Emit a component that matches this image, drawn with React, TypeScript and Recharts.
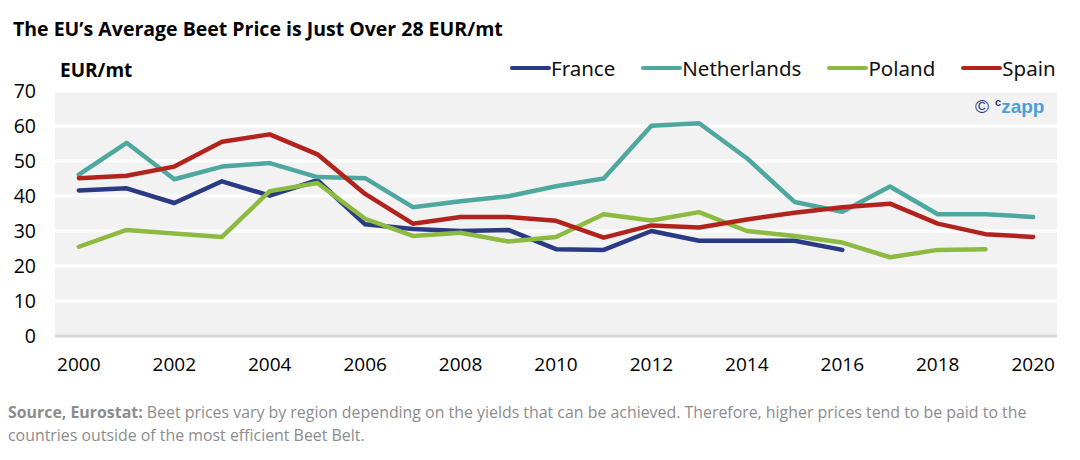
import React from "react"
import { LineChart, Line, XAxis, YAxis, CartesianGrid } from "recharts"

const years = [
  "2000", "2001", "2002", "2003", "2004", "2005", "2006", "2007", "2008", "2009", "2010",
  "2011", "2012", "2013", "2014", "2015", "2016", "2017", "2018", "2019", "2020",
]

const france = [41.6, 42.2, 38.0, 44.2, 40.1, 44.5, 31.9, 30.6, 30.0, 30.3, 24.8, 24.6, 30.0, 27.2, 27.2, 27.2, 24.6, null, null, null, null]
const netherlands = [46.1, 55.2, 44.8, 48.4, 49.4, 45.4, 45.1, 36.8, 38.5, 39.9, 42.8, 45.0, 60.1, 60.8, 50.8, 38.3, 35.5, 42.7, 34.8, 34.8, 34.0]
const poland = [25.5, 30.3, 29.3, 28.3, 41.4, 43.7, 33.5, 28.6, 29.5, 27.0, 28.3, 34.8, 33.0, 35.4, 30.0, 28.6, 26.7, 22.5, 24.6, 24.8, null]
const spain = [45.1, 45.8, 48.4, 55.5, 57.6, 51.9, 40.6, 32.1, 34.0, 34.0, 32.9, 28.1, 31.6, 31.0, 33.3, 35.2, 36.8, 37.8, 32.1, 29.1, 28.3]

const yTicks = [0, 10, 20, 30, 40, 50, 60, 70]

const series = [
  { key: "France", values: france, color: "#2b3a85" },
  { key: "Netherlands", values: netherlands, color: "#4fa8a0" },
  { key: "Poland", values: poland, color: "#8dba41" },
  { key: "Spain", values: spain, color: "#b3231e" },
]

const data = years.map((year, i) => {
  const row: Record<string, any> = { year }
  series.forEach((s) => {
    row[s.key] = s.values[i]
  })
  return row
})

const font = "'Open Sans', sans-serif"

export default function App() {
  return (
    <div style={{ position: "absolute", left: 0, top: 0, width: 1080, height: 460, background: "#fff", fontFamily: font }}>
      <div style={{ position: "absolute", left: 13, top: 15, fontSize: 19.5, fontWeight: 700, color: "#000", whiteSpace: "nowrap" }}>
        The EU’s Average Beet Price is Just Over 28 EUR/mt
      </div>
      <div style={{ position: "absolute", left: 60, top: 57, fontSize: 19, fontWeight: 700, color: "#000" }}>
        EUR/mt
      </div>

      {/* legend */}
      <div style={{ position: "absolute", left: 510, top: 54, display: "flex", alignItems: "center", fontFamily: "'Noto Sans', sans-serif", fontSize: 20.5, color: "#111" }}>
        {series.map((s, i) => (
          <div key={s.key} style={{ display: "flex", alignItems: "center", marginRight: i === 3 ? 0 : 26 }}>
            <div style={{ width: 41, height: 4, borderRadius: 2, background: s.color }} />
            <span>{s.key}</span>
          </div>
        ))}
      </div>

      <LineChart
        width={1080}
        height={460}
        data={data}
        margin={{ top: 91, right: 23, bottom: 94, left: 0 }}
        style={{ position: "absolute", left: 0, top: 0 }}
      >
        <CartesianGrid fill="#f2f2f2" stroke="#ffffff" strokeWidth={3} vertical={false} />
        <XAxis
          dataKey="year"
          scale="band"
          height={30}
          axisLine={{ stroke: "#d9d9d9", strokeWidth: 3 }}
          tickLine={false}
          tickSize={0}
          tickMargin={22}
          interval={1}
          tick={{ fontSize: 19, fill: "#000", fontFamily: font }}
        />
        <YAxis
          domain={[0, 70]}
          ticks={yTicks}
          width={55}
          axisLine={false}
          tickLine={false}
          tickSize={0}
          tickMargin={19}
          tick={{ fontSize: 19.5, fill: "#000", fontFamily: font }}
        />
        {series.map((s) => (
          <Line
            key={s.key}
            type="linear"
            dataKey={s.key}
            stroke={s.color}
            strokeWidth={4.5}
            strokeLinecap="round"
            strokeLinejoin="round"
            dot={false}
            activeDot={false}
            isAnimationActive={false}
          />
        ))}
      </LineChart>

      <div style={{ position: "absolute", left: 975, top: 96, fontSize: 19, fontWeight: 700, whiteSpace: "nowrap", fontFamily: "'Liberation Sans', Arial, sans-serif" }}>
        <span style={{ color: "#2b3a85", fontWeight: 400, fontSize: 19 }}>©</span>
        <span style={{ color: "#2b3a85", fontSize: 11, verticalAlign: "top", marginLeft: 6 }}>c</span>
        <span style={{ color: "#4a9fd8" }}>zapp</span>
      </div>

      <div style={{ position: "absolute", left: 8, top: 401, fontSize: 15.9, lineHeight: "23px", color: "#8c8c8c", whiteSpace: "nowrap" }}>
        <div>
          <span style={{ fontWeight: 700 }}>Source, Eurostat: </span>
          <span>Beet prices vary by region depending on the yields that can be achieved. Therefore, higher prices tend to be paid to the</span>
        </div>
        <div>countries outside of the most efficient Beet Belt.</div>
      </div>
    </div>
  )
}
